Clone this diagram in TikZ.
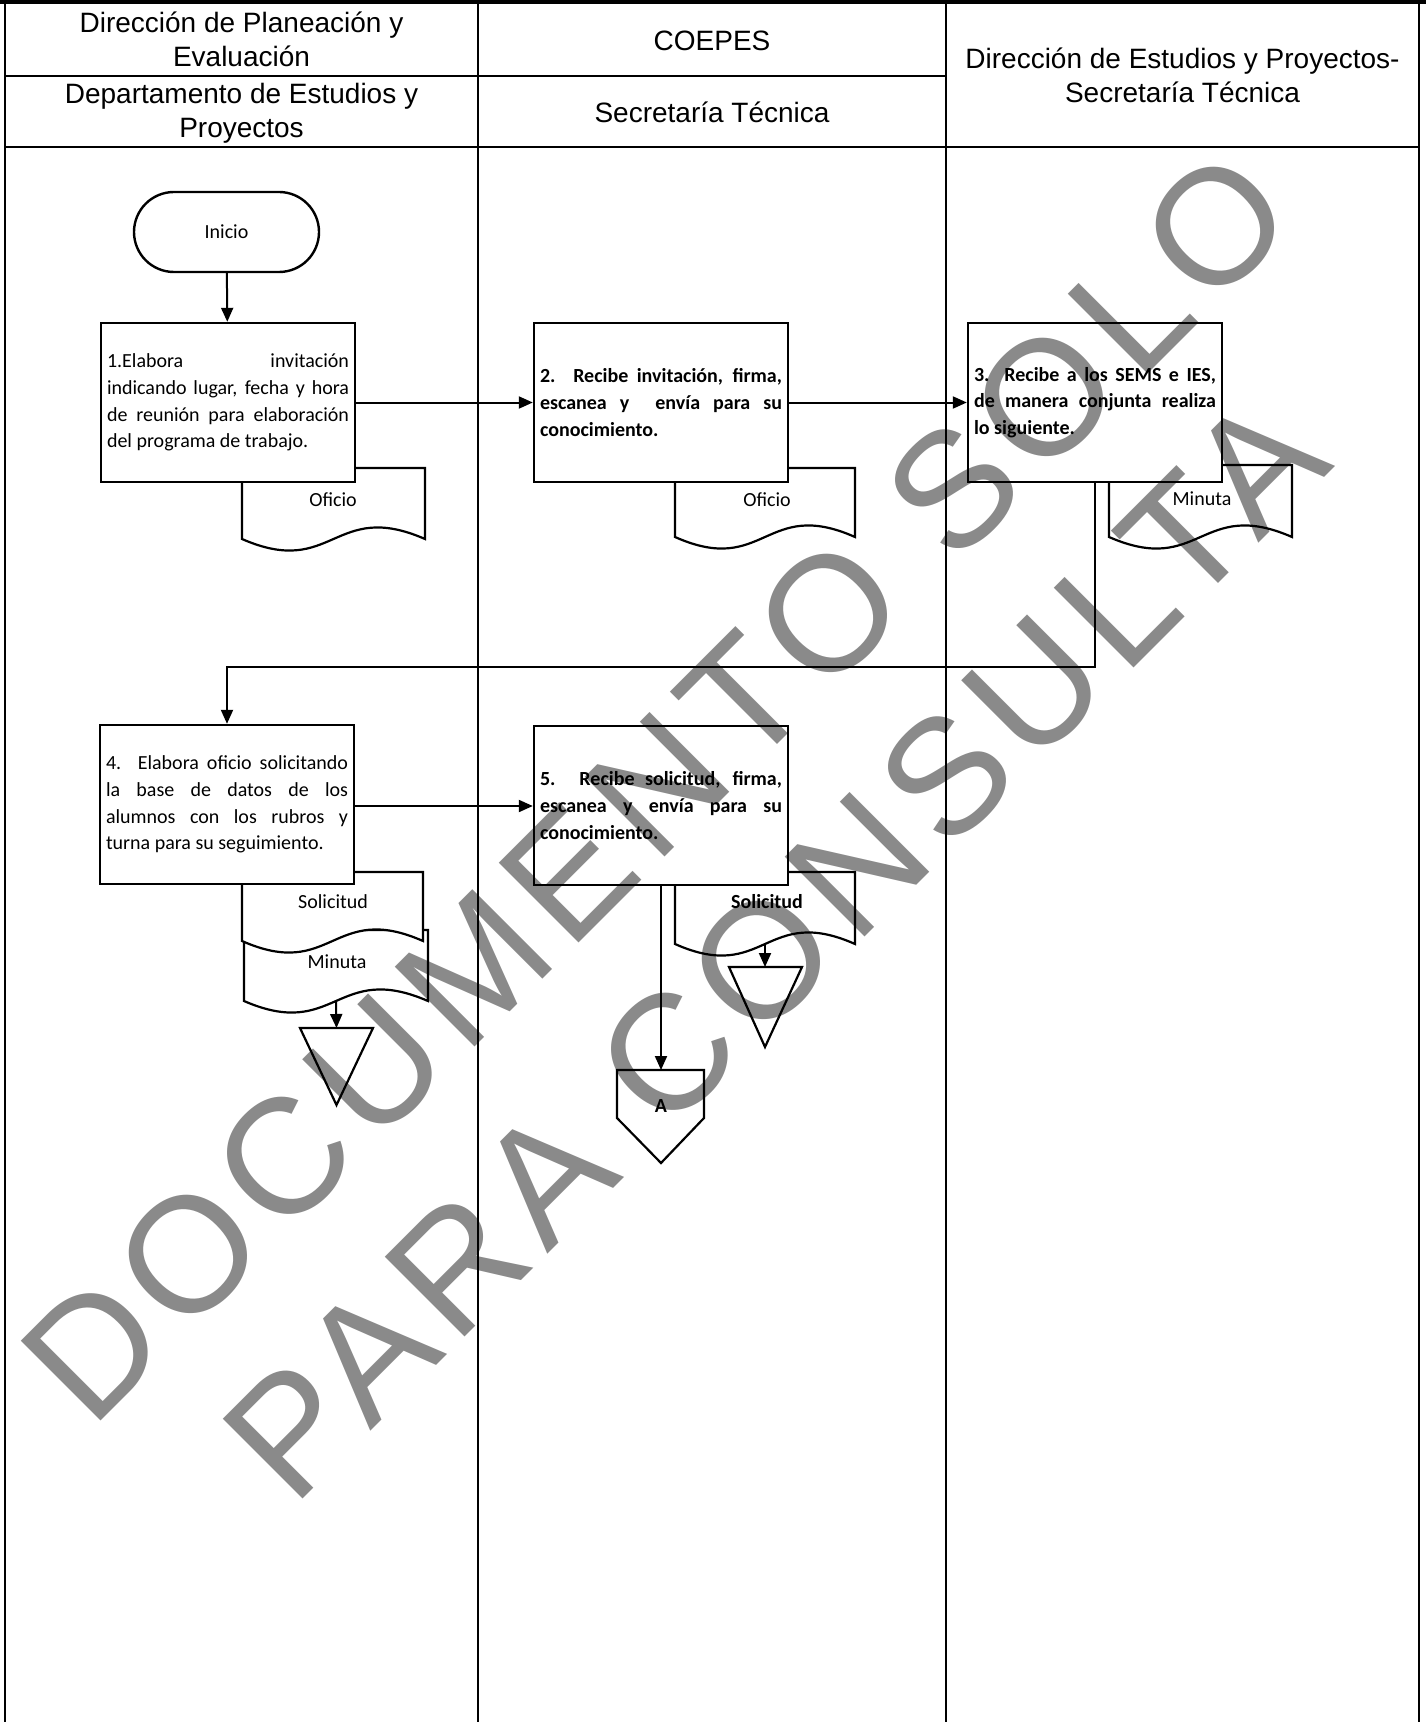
\documentclass[tikz,border=0pt]{standalone}
\usepackage{fontspec}
\setmainfont{Carlito}
\newfontfamily\headfont{Liberation Sans}
\newfontfamily\stampfont[LetterSpace=7]{Liberation Sans}
\usetikzlibrary{arrows.meta}

\definecolor{stampgray}{HTML}{8A8A8A}

\tikzset{
  rule/.style={line width=1pt},
  toprule/.style={line width=2pt},
  head/.style={font=\headfont\fontsize{14}{17}\selectfont, align=center, inner sep=0pt},
  activity/.style={draw, fill=white, line width=1.2pt, rectangle,
    text width=121pt, inner xsep=3pt, inner ysep=0pt, minimum height=79.5pt,
    align=justify, font=\fontsize{10}{13.3}\selectfont},
  terminal/.style={draw, fill=white, line width=1.2pt, rectangle, rounded corners=20pt,
    minimum width=92.5pt, minimum height=40pt, font=\fontsize{10}{12}\selectfont},
  docshape/.style={draw=black, fill=white, line width=1.1pt},
  doclabel/.style={font=\fontsize{10}{12}\selectfont, inner sep=0pt},
  storeshape/.style={draw=black, fill=white, line width=1.1pt},
  flow/.style={draw, line width=1pt, -{Triangle[length=7pt,width=6pt]}},
  stamp/.style={anchor=base west, rotate=45, inner sep=0pt, text=stampgray,
    font=\stampfont\fontsize{82}{90}\selectfont}
}

% document symbol: straight sides, wavy bottom edge
\newcommand{\flowdoc}[5]{%
  \filldraw[docshape] (#2,#3) -- (#2,#5)
    .. controls ({(#2+#4)/2},{#5+40}) and ({(#2+#4)/2},{#5-40}) .. (#4,#5)
    -- (#4,#3) -- cycle;
  \coordinate (#1-foot) at ({(#2+#4)/2},#5);
}

\begin{document}
\begin{tikzpicture}[x=0.5pt,y=-0.5pt]
\useasboundingbox (0,0) rectangle (1426,1722);

% swimlane table
\draw[toprule] (0,2) -- (1426,2);
\draw[rule] (5,2) -- (5,1722);
\draw[rule] (478,2) -- (478,1722);
\draw[rule] (946,2) -- (946,1722);
\draw[rule] (1419,2) -- (1419,1722);
\draw[rule] (5,76) -- (946,76);
\draw[rule] (5,147) -- (1419,147);

\node[head] (laneA1) at (241.5,39) {Dirección de Planeación y\\Evaluación};
\node[head] (laneA2) at (241.5,113) {Departamento de Estudios y\\Proyectos};
\node[head] (laneB1) at (712,41) {COEPES};
\node[head] (laneB2) at (712,112) {Secretaría Técnica};
\node[head] (laneC) at (1182.5,75) {Dirección de Estudios y Proyectos-\\Secretaría Técnica};

% documents attached to the activities
\flowdoc{docA}{242}{468}{425}{539}
\node[doclabel] (docAlbl) at (333,500) {Oficio};
\flowdoc{docB}{675}{468}{855}{537}
\node[doclabel] (docBlbl) at (767,500) {Oficio};
\flowdoc{docC}{1109}{465}{1292}{537}
\node[doclabel] (docClbl) at (1202,499) {Minuta};
\flowdoc{docE}{244}{930}{428}{1001}
\node[doclabel] (docElbl) at (337,962) {Minuta};
\flowdoc{docD}{242}{872}{423}{941}
\node[doclabel] (docDlbl) at (333,902) {Solicitud};
\flowdoc{docF}{675}{872}{855}{944}
\node[doclabel, font=\bfseries\fontsize{10}{12}\selectfont] (docFlbl) at (767,902) {Solicitud};

% start and activities
\node[terminal] (start) at (226.5,232) {Inicio};

\node[activity] (act1) at (228,402.5) {1.Elabora invitación\linebreak
indicando lugar, fecha y hora\linebreak
de reunión para elaboración\linebreak
del programa de trabajo.};

\node[activity, font=\bfseries\fontsize{10}{13.3}\selectfont] (act2) at (661,402.5) {2. Recibe invitación, firma,\linebreak
escanea y\ \ envía para su\linebreak
conocimiento.};

\node[activity, font=\bfseries\fontsize{10}{13.3}\selectfont] (act3) at (1095,402.5) {3. Recibe a los SEMS e IES,\linebreak
de manera conjunta realiza\linebreak
lo siguiente.};

\node[activity] (act4) at (227,804.5) {4. Elabora oficio solicitando\linebreak
la base de datos de los\linebreak
alumnos con los rubros y\linebreak
turna para su seguimiento.};

\node[activity, font=\bfseries\fontsize{10}{13.3}\selectfont] (act5) at (661,805.5) {5. Recibe solicitud, firma,\linebreak
escanea y envía para su\linebreak
conocimiento.};

% archive triangles
\coordinate (storeA-top) at (336.5,1028);
\filldraw[storeshape] (300,1028) -- (373,1028) -- (336.5,1105) -- cycle;
\coordinate (storeB-top) at (765,967);
\filldraw[storeshape] (729,967) -- (802,967) -- (765,1047) -- cycle;

% off-page connector
\coordinate (offA-top) at (661,1070);
\filldraw[storeshape] (617,1070) -- (704,1070) -- (704,1118) -- (661,1163) -- (617,1118) -- cycle;
\node[font=\bfseries\fontsize{10}{12}\selectfont, inner sep=0pt] (offA) at (661,1106) {A};

% connectors
\coordinate (loopY) at (0,667);
\draw[flow] (start) -- (act1);
\draw[flow] (act1) -- (act2);
\draw[flow] (act2) -- (act3);
\draw[flow] (act3.south) -- (act3.south |- loopY) -| (act4.north);
\draw[flow] (act4.east |- 0,806) -- (act5.west |- 0,806);
\draw[flow] (act5.south) -- (offA-top);
\draw[flow] (docE-foot) -- (storeA-top);
\draw[flow] (docF-foot) -- (storeB-top);

% stamp across the sheet
\begin{scope}[blend mode=multiply]
\node[stamp] (stampA) at (91,1431) {DOCUMENTO SOLO};
\node[stamp] (stampB) at (293,1509) {PARA CONSULTA};
\end{scope}
\end{tikzpicture}
\end{document}
